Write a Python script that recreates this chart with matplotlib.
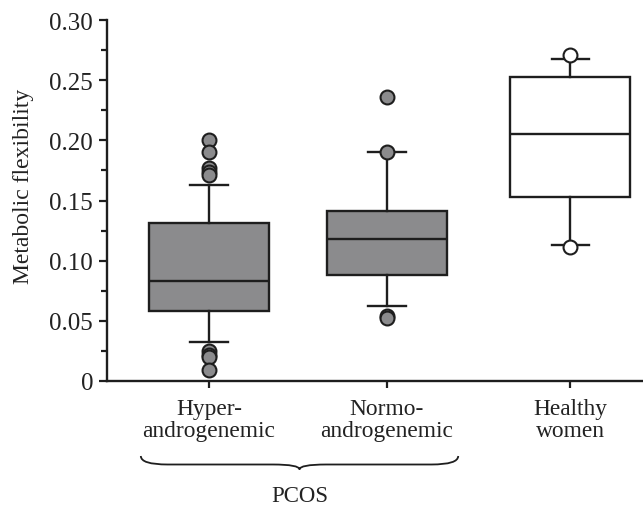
import matplotlib
matplotlib.use("Agg")
import matplotlib.pyplot as plt
from matplotlib.path import Path
from matplotlib.patches import PathPatch
from matplotlib.ticker import MultipleLocator
import matplotlib.transforms as mtransforms

plt.rcParams['font.family'] = ['Liberation Serif', 'DejaVu Serif']

# ---- data ----
groups = ["Hyper-\nandrogenemic", "Normo-\nandrogenemic", "Healthy\nwomen"]
q1 = [0.058, 0.088, 0.153]
med = [0.083, 0.118, 0.205]
q3 = [0.131, 0.141, 0.253]
whislo = [0.032, 0.062, 0.113]
whishi = [0.163, 0.190, 0.268]
fliers = [
    [0.200, 0.190, 0.177, 0.174, 0.171, 0.025, 0.022, 0.020, 0.0094],
    [0.236, 0.190, 0.054, 0.052],
    [0.271, 0.111],
]
fill_colors = ["#8b8b8d", "#8b8b8d", "#ffffff"]
group_label = "PCOS"
y_label = "Metabolic flexibility"
yticks = [0, 0.05, 0.10, 0.15, 0.20, 0.25, 0.30]
ytick_labels = ["0", "0.05", "0.10", "0.15", "0.20", "0.25", "0.30"]

positions = [0, 1, 2.03]
edge = "#1e1e1e"
txt = "#222222"

fig = plt.figure(figsize=(6.43, 5.06), dpi=100)
ax = fig.add_axes([107/643, (506-382)/506, (643-107)/643, (382-21)/506])

for i in range(3):
    st = [dict(med=med[i], q1=q1[i], q3=q3[i], whislo=whislo[i],
               whishi=whishi[i], fliers=fliers[i])]
    ax.bxp(st, positions=[positions[i]], widths=0.674, capwidths=0.21,
           patch_artist=True, showfliers=True,
           boxprops=dict(facecolor=fill_colors[i], edgecolor=edge, linewidth=1.7),
           medianprops=dict(color=edge, linewidth=1.7),
           whiskerprops=dict(color=edge, linewidth=1.7),
           capprops=dict(color=edge, linewidth=1.7),
           flierprops=dict(marker='o', markersize=10, markerfacecolor=fill_colors[i],
                           markeredgecolor=edge, markeredgewidth=1.5, linestyle='none'))

ax.set_xlim(-0.573, 2.438)
ax.set_ylim(0, 0.30)
ax.set_yticks(yticks)
ax.set_yticklabels(ytick_labels)
ax.yaxis.set_minor_locator(MultipleLocator(0.025))
ax.set_xticks(positions)
ax.set_xticklabels(groups, fontsize=16.8, linespacing=1.1)
ax.tick_params(axis='y', labelsize=18, direction='out', length=6, width=1.6, pad=4, colors=edge)
ax.tick_params(axis='y', which='minor', direction='out', length=4, width=1.6, colors=edge)
ax.tick_params(axis='x', direction='out', length=5, width=1.6, pad=7, colors=edge)
for lab in ax.get_xticklabels() + ax.get_yticklabels():
    lab.set_color(txt)
ax.set_ylabel(y_label, fontsize=17, color=txt)
ax.yaxis.set_label_coords((34 - 107) / 536, (382 - 186) / 361)

for s in ['top', 'right']:
    ax.spines[s].set_visible(False)
for s in ['left', 'bottom']:
    ax.spines[s].set_linewidth(1.7)
    ax.spines[s].set_color(edge)

# brace under the two PCOS groups (x in data, y in figure pixels)
trans = mtransforms.blended_transform_factory(ax.transData, fig.transFigure)
def fy(py):
    return (506 - py) / 506
xl, xr = -0.383, 1.40
xm = (xl + xr) / 2
y_end, y_mid, y_tip = fy(457), fy(465.5), fy(470.5)
verts = [
    (xl, y_end), (xl, y_mid), (xl + 0.15, y_mid),
    (xm - 0.15, y_mid), (xm, y_mid), (xm, y_tip),
    (xm, y_mid), (xm + 0.15, y_mid),
    (xr - 0.15, y_mid), (xr, y_mid), (xr, y_end),
]
codes = [Path.MOVETO, Path.CURVE3, Path.CURVE3,
         Path.LINETO, Path.CURVE3, Path.CURVE3,
         Path.CURVE3, Path.CURVE3,
         Path.LINETO, Path.CURVE3, Path.CURVE3]
brace = PathPatch(Path(verts, codes), transform=trans, fill=False,
                  edgecolor=edge, linewidth=1.3, clip_on=False)
ax.add_patch(brace)
ax.text(xm, fy(502), group_label, transform=trans, ha='center', va='baseline',
        fontsize=16.5, color=txt)

fig.savefig("out.png", dpi=100)
